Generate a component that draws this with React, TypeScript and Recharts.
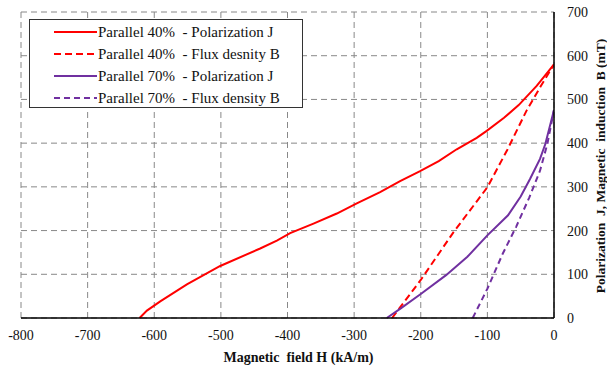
import React from 'react';
import { LineChart, Line, XAxis, YAxis, CartesianGrid, Legend } from 'recharts';

const xTicks = [-800, -700, -600, -500, -400, -300, -200, -100, 0];
const yTicks = [0, 100, 200, 300, 400, 500, 600, 700];

const par40J_H = [-622, -611, -591, -551, -501, -441, -416, -396, -361, -326, -296, -261, -231, -201, -173, -146, -116, -101, -75, -53, -26, 0];
const par40J_V = [0, 17, 38, 77, 119, 159, 177, 194, 216, 239, 262, 288, 313, 336, 359, 386, 412, 428, 458, 487, 531, 580];

const par40B_H = [-243, -200, -151, -100, -70, -41, -20, 0];
const par40B_V = [0, 87, 196, 299, 385, 475, 530, 580];

const par70J_H = [-251, -230, -200, -162, -130, -100, -69, -50, -36, -21, -13, 0];
const par70J_V = [0, 22, 55, 98, 140, 189, 235, 278, 318, 364, 398, 476];

const par70B_H = [-122, -100, -77, -57, -37, -21, -10, 0];
const par70B_V = [0, 67, 147, 208, 276, 337, 398, 476];

const seriesNames = [
  'Parallel 40%  - Polarization J',
  'Parallel 40%  - Flux desnity B',
  'Parallel 70%  - Polarization J',
  'Parallel 70%  - Flux density B',
];

const toPts = (h: number[], v: number[]) => h.map((x, i) => ({ x, y: v[i] }));

const RED = '#ff0000';
const PURPLE = '#7030a0';
const FONT = "'Liberation Serif', 'Times New Roman', Times, serif";

const series = [
  { name: seriesNames[0], data: toPts(par40J_H, par40J_V), color: RED, dash: undefined },
  { name: seriesNames[1], data: toPts(par40B_H, par40B_V), color: RED, dash: '7 4' },
  { name: seriesNames[2], data: toPts(par70J_H, par70J_V), color: PURPLE, dash: undefined },
  { name: seriesNames[3], data: toPts(par70B_H, par70B_V), color: PURPLE, dash: '6 4' },
];

const LegendBox = () => (
  <div
    style={{
      width: 272,
      height: 87,
      border: '1px solid #333',
      background: '#fff',
      fontFamily: FONT,
      fontSize: 15,
      color: '#111',
      boxSizing: 'content-box',
    }}
  >
    {series.map((s, i) => (
      <div key={i} style={{ height: 22, display: 'flex', alignItems: 'center', marginTop: i === 0 ? 1 : 0 }}>
        <svg width={68} height={22} style={{ flex: 'none' }}>
          <line x1={24} x2={67} y1={11} y2={11} stroke={s.color} strokeWidth={2} strokeDasharray={s.dash} />
        </svg>
        <span style={{ whiteSpace: 'pre', lineHeight: '22px', fontFamily: FONT }}>{s.name}</span>
      </div>
    ))}
  </div>
);

const XLabel = (props: any) => {
  const vb = props.viewBox;
  return (
    <text
      x={vb.x + vb.width / 2 + 11}
      y={vb.y + 44}
      textAnchor="middle"
      fontWeight="bold"
      fontSize={14}
      fill="#111"
      style={{ whiteSpace: 'pre', fontFamily: FONT }}
    >
      Magnetic  field H (kA/m)
    </text>
  );
};

const YLabel = (props: any) => {
  const vb = props.viewBox;
  const cx = vb.x + 46;
  const cy = vb.y + 154;
  return (
    <text
      x={cx}
      y={cy}
      textAnchor="middle"
      dominantBaseline="central"
      transform={`rotate(-90, ${cx}, ${cy})`}
      fontWeight="bold"
      fontSize={13.5}
      fill="#111"
      style={{ whiteSpace: 'pre', fontFamily: FONT }}
    >
      Polarization  J, Magnetic  induction  B (mT)
    </text>
  );
};

const tickStyle = { fontFamily: FONT, fontSize: 14, fill: '#111', style: { fontFamily: FONT } };

export default function App() {
  return (
    <div style={{ position: 'absolute', left: 0, top: 0, width: 607, height: 368, background: '#fff', fontFamily: FONT }}>
      <LineChart width={607} height={368} margin={{ top: 12, right: 0, bottom: 0, left: 21 }} style={{ fontFamily: FONT }}>
        <CartesianGrid stroke="#888" strokeDasharray="6 4" vertical horizontal />
        <XAxis
          type="number"
          dataKey="x"
          domain={[-800, 0]}
          ticks={xTicks}
          allowDataOverflow
          height={50}
          axisLine={{ stroke: '#000', strokeWidth: 1.5 }}
          tickLine={false}
          tickSize={0}
          tickMargin={12}
          tick={tickStyle}
          label={<XLabel />}
        />
        <XAxis
          xAxisId="top"
          orientation="top"
          type="number"
          domain={[-800, 0]}
          ticks={xTicks}
          height={0}
          axisLine={{ stroke: '#000' }}
          tick={false}
          tickLine={false}
        />
        <YAxis
          yAxisId="left"
          orientation="left"
          type="number"
          domain={[0, 700]}
          ticks={yTicks}
          width={0}
          axisLine={{ stroke: '#000' }}
          tick={false}
          tickLine={false}
        />
        <YAxis
          orientation="right"
          type="number"
          domain={[0, 700]}
          ticks={yTicks}
          width={53}
          axisLine={{ stroke: '#000', strokeWidth: 1.5 }}
          tickLine={false}
          tickSize={0}
          tickMargin={13}
          tick={{ ...tickStyle, textAnchor: 'start' }}
          label={<YLabel />}
        />
        <Legend
          layout="vertical"
          align="center"
          verticalAlign="middle"
          content={() => <LegendBox />}
          wrapperStyle={{ left: 29, top: 19, width: 274, height: 89, right: 'auto', bottom: 'auto' }}
        />
        {series.map((s, i) => (
          <Line
            key={i}
            name={s.name}
            data={s.data}
            dataKey="y"
            type="linear"
            stroke={s.color}
            strokeWidth={2}
            strokeDasharray={s.dash}
            dot={false}
            activeDot={false}
            isAnimationActive={false}
          />
        ))}
      </LineChart>
    </div>
  );
}
